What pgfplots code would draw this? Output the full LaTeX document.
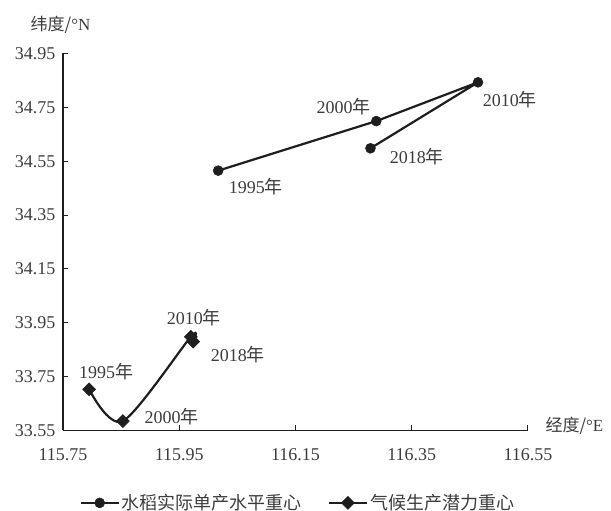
\documentclass[border=0pt]{standalone}
\usepackage{fontspec}
\setmainfont{Liberation Serif}
\newfontfamily\cjk{Noto Sans CJK SC}
\usepackage{pgfplots}
\usepackage{pgfplotstable}
\pgfplotsset{compat=1.18}
\definecolor{txt}{HTML}{3C3C3C}
\definecolor{ln}{HTML}{1E1E1E}
\newcommand{\nian}{{\cjk 年}}

% rice yield centre of gravity (lon, lat): 1995, 2000, 2010, 2018
\pgfplotstableread{
x y
116.017 34.515
116.289 34.699
116.464 34.843
116.279 34.598
}\rice
% climate production potential centre: 1995, 2000, 2010, 2018
\pgfplotstableread{
x y
115.795 33.703
115.853 33.585
115.970 33.898
115.974 33.880
}\climate

\pgfplotsset{
  legend image code/.code={%
    \draw[mark repeat=2,mark phase=2,#1] plot coordinates {(0pt,0pt) (19pt,0pt) (38pt,0pt)};},
}
\tikzset{lbl/.style={font=\fontsize{18}{18}\selectfont, text=txt}}

\begin{document}
\begin{tikzpicture}[x=1pt,y=1pt]
\path[use as bounding box] (-63,-80.5) rectangle (548,430.5);
\begin{axis}[
  at={(0,0)}, anchor=south west,
  scale only axis, width=465pt, height=377pt,
  clip=false,
  xmin=115.75, xmax=116.55, ymin=33.55, ymax=34.95,
  xtick={115.75,115.95,116.15,116.35,116.55},
  ytick={33.55,33.75,33.95,34.15,34.35,34.55,34.75,34.95},
  axis x line*=bottom, axis y line*=left,
  axis line style={line width=1.3pt, draw=ln, -},
  tick align=inside, major tick length=5pt,
  tick style={line width=1pt, draw=ln},
  ticklabel style={font=\fontsize{18}{18}\selectfont, text=txt},
  /pgf/number format/assume math mode=true,
  /pgf/number format/fixed, /pgf/number format/precision=2,
  /pgf/number format/fixed zerofill,
  xticklabel style={yshift=-15pt},
  yticklabel style={xshift=-4pt},
  legend columns=2,
  legend style={draw=none, fill=none, at={(0.505,-0.192)}, anchor=center,
    font=\cjk\fontsize{18}{18}\selectfont, text=txt,
    /tikz/every even column/.append style={column sep=24pt}},
]
\addplot[ln, line width=2.2pt, mark=*, mark size=5pt,
  mark options={fill=ln, draw=ln, line width=0.5pt}] table {\rice};
\addlegendentry{水稻实际单产水平重心}
\addplot[ln, line width=2.2pt, smooth, mark=square*, mark size=4.6pt,
  mark options={fill=ln, draw=ln, rotate=45, line width=0.5pt}] table {\climate};
\addlegendentry{气候生产潜力重心}

\node[lbl] at (axis cs:116.082,34.454) {1995\nian};
\node[lbl] at (axis cs:116.233,34.751) {2000\nian};
\node[lbl] at (axis cs:116.519,34.777) {2010\nian};
\node[lbl] at (axis cs:116.359,34.566) {2018\nian};
\node[lbl] at (axis cs:115.824,33.767) {1995\nian};
\node[lbl] at (axis cs:115.937,33.600) {2000\nian};
\node[lbl] at (axis cs:115.975,33.971) {2010\nian};
\node[lbl] at (axis cs:116.051,33.830) {2018\nian};

\node[lbl, font=\fontsize{17}{17}\selectfont] at (rel axis cs:0,1) [xshift=-2.5pt, yshift=29pt] {{\cjk 纬度/}°N};
\node[lbl, font=\fontsize{17}{17}\selectfont, anchor=west] at (rel axis cs:1,0) [xshift=14pt, yshift=5pt] {{\cjk 经度/}°E};
\end{axis}
\end{tikzpicture}
\end{document}
